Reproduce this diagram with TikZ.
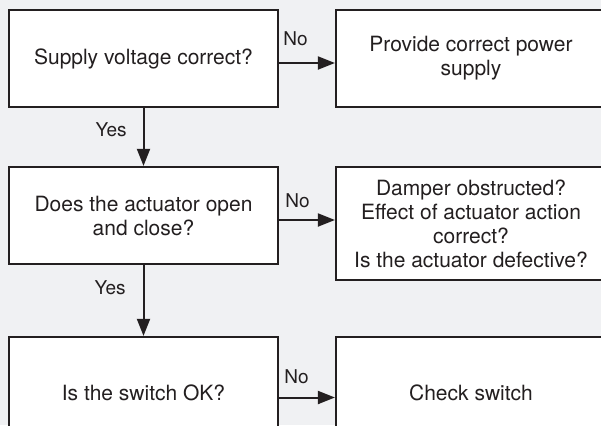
\documentclass[tikz,border=0pt]{standalone}
\usepackage{fontspec}
\setmainfont{TeX Gyre Heros}
\usetikzlibrary{arrows.meta,positioning}
\definecolor{bgGray}{HTML}{F0F1F3}
\definecolor{inkDark}{HTML}{231F20}
\tikzset{
  box/.style={draw=inkDark, line width=1.1pt, fill=white, align=center, text=inkDark,
    font=\fontsize{10.5}{12}\selectfont, inner sep=0pt},
  flow/.style={draw=inkDark, line width=1pt, -{Triangle[length=8.5pt,width=6.5pt]}},
  lbl/.style={text=inkDark, font=\fontsize{9.5}{10}\selectfont, inner sep=0pt},
}
\begin{document}
\begin{tikzpicture}[x=0.5pt,y=-0.5pt]
  \useasboundingbox (0,0) rectangle (601,425);
  \fill[bgGray] (0,0) rectangle (601,425);
  \clip (0,0) rectangle (601,425);
  % Questions
  \node[box, minimum width=134.5pt, minimum height=48.5pt] (supply) at (143.5,58.5) {Supply voltage correct?};
  \node[box, minimum width=134.5pt, minimum height=48.5pt] (actuator) at (143.5,215.5) {Does the actuator open\\and close?};
  \node[box, minimum width=134.5pt, minimum height=56pt] (switch) at (143.5,393) {Is the switch OK?};
  % Actions
  \node[box, minimum width=135pt, minimum height=48.5pt] (power) at (471,58.5) {Provide correct power\\supply};
  \node[box, minimum width=135pt, minimum height=56.5pt] (damper) at (471,223.5) {Damper obstructed?\\Effect of actuator action\\correct?\\Is the actuator defective?};
  \node[box, minimum width=135pt, minimum height=56pt] (check) at (471,393) {Check switch};
  % Yes
  \draw[flow] (supply) -- (actuator);
  \draw[flow] (actuator) -- (switch);
  \node[lbl, anchor=base east] (yes1) at (127,136) {Yes};
  \node[lbl, anchor=base east] (yes2) at (126,294) {Yes};
  % No
  \draw[flow] ([yshift=-2.25pt]supply.east) -- ([yshift=-2.25pt]supply.east -| power.west);
  \draw[flow] ([yshift=-2.25pt]actuator.east) -- ([yshift=-2.25pt]actuator.east -| damper.west);
  \draw[flow] ([yshift=-2.25pt]switch.east) -- ([yshift=-2.25pt]switch.east -| check.west);
  \node[lbl, anchor=base west] (no1) at (283,45) {No};
  \node[lbl, anchor=base west] (no2) at (285,207) {No};
  \node[lbl, anchor=base west] (no3) at (284,383) {No};
\end{tikzpicture}
\end{document}
